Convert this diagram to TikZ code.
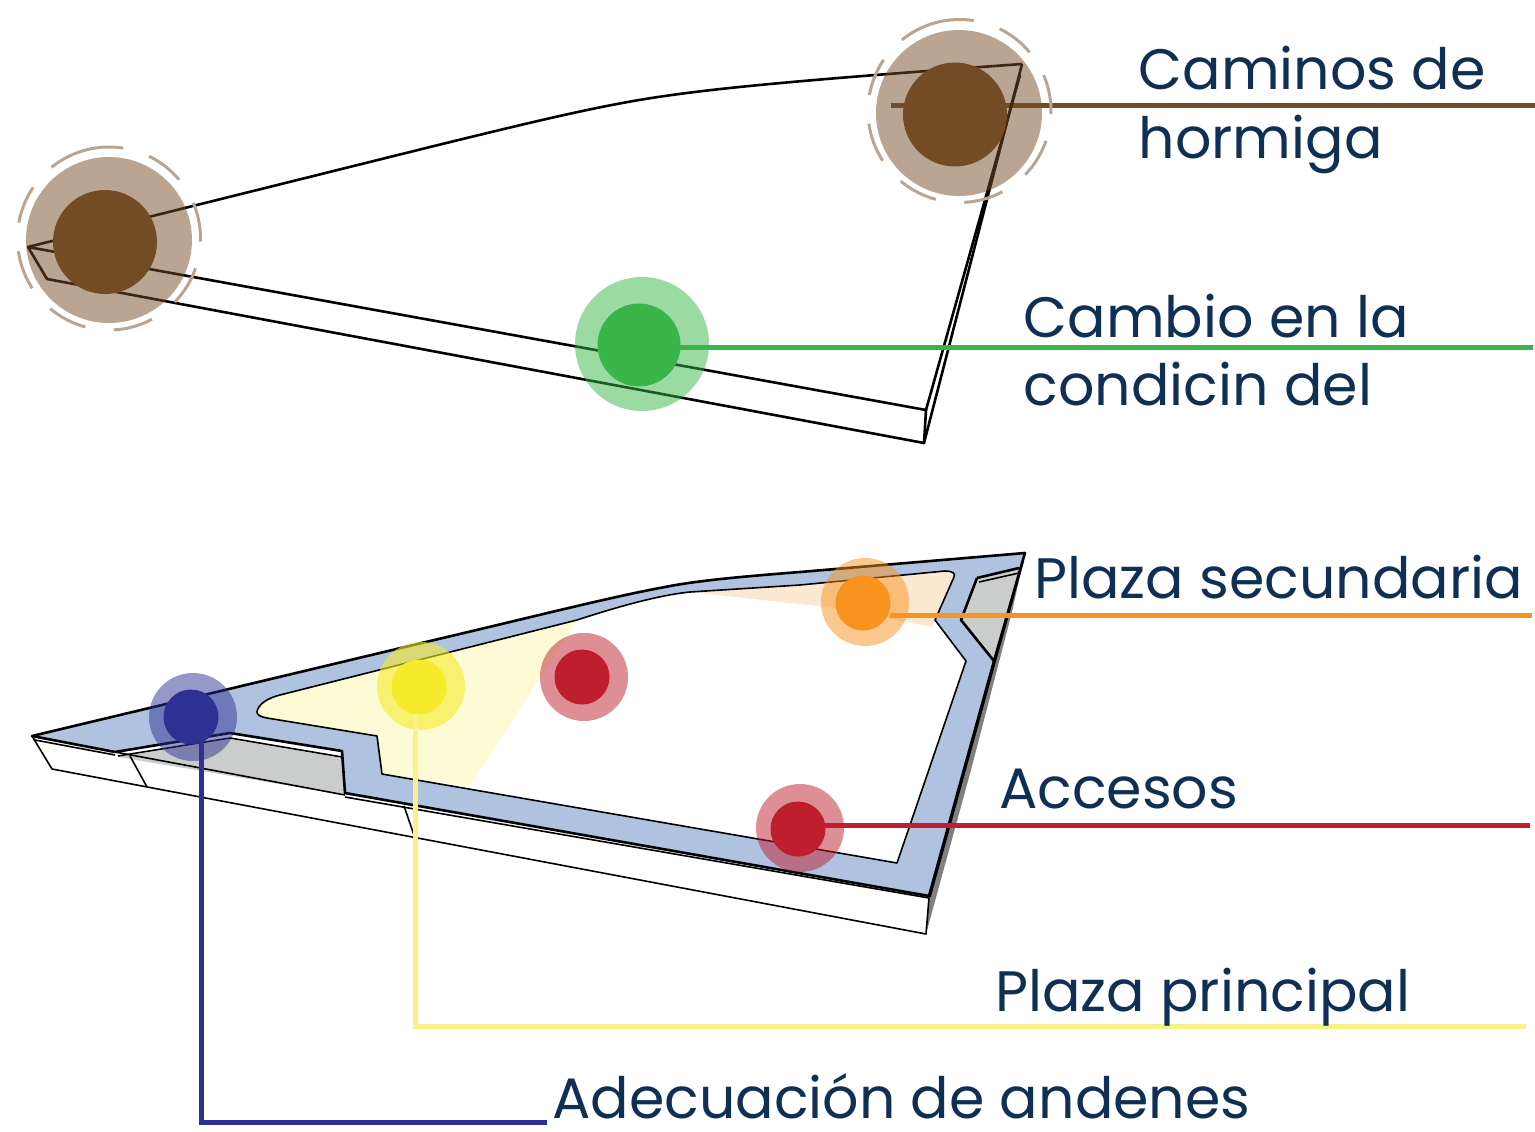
\documentclass[tikz,border=0pt]{standalone}
\usepackage{fontspec}
\setmainfont{Poppins}
\definecolor{cafe}{HTML}{734C26}
\definecolor{verde}{HTML}{39B54A}
\definecolor{rojo}{HTML}{BE1E2D}
\definecolor{naranja}{HTML}{F7931E}
\definecolor{amarillo}{HTML}{F5EB2B}
\definecolor{amarilloline}{HTML}{F9F28C}
\definecolor{azul}{HTML}{2E3192}
\definecolor{banda}{HTML}{AFC2E0}
\definecolor{gris}{HTML}{CBCDCC}
\definecolor{texto}{HTML}{0F3054}
\tikzset{
  halo/.style={circle,inner sep=0pt,minimum size=#1,draw=none},
  punto/.style={circle,inner sep=0pt,minimum size=#1,draw=none},
  etiqueta/.style={anchor=base west,inner sep=0pt,text=texto,font=\fontsize{57}{67}\selectfont},
  linea/.style={line width=5pt},
  anillo/.style={draw=cafe!50,line width=3pt},
  fino/.style={black,line width=1.6pt,line join=round},
  grueso/.style={black,line width=2.6pt,line join=round}
}
\newcommand{\hueco}{(257,712) .. controls (258,704) and (268,698) .. (280,695) -- (577,620) .. controls (620,606) and (660,595) .. (690,592) -- (800,585) -- (945,571) .. controls (952,571) and (956,573) .. (954,577) -- (935,620) -- (966,661) -- (897,863) -- (382,774) -- (377,736) -- (267,718) .. controls (261,717) and (257,715) .. (257,712) -- cycle}
\newcommand{\banda}{(32,736) -- (430,641) .. controls (520,620) and (610,597) .. (665,587) .. controls (700,580) and (750,576) .. (800,572) -- (1025,553) -- (1020,570) -- (994,661) -- (929,896) -- (345,793) -- (342,751) -- (230,733) -- (115,752) -- cycle}
\newcommand{\anillos}[3]{
  \foreach \a/\b in {129/81,64/40,23/-2,-19/-44,-62/-87,-105/-130,-147/-172,170/146}{
    \draw[anillo] (#1,#2) ++(\a:#3) arc[start angle=\a,end angle=\b,radius=#3];
  }
}
\begin{document}
\begin{tikzpicture}[x=1pt,y=-1pt]
  \useasboundingbox (0,0) rectangle (1535,1132);
  % arriba
  \coordinate (cafeA) at (891,105);
  \coordinate (cafeB) at (1535,105);
  \draw[linea,cafe] (cafeA) -- (cafeB);
  \draw[grueso] (28,247) -- (430,147) .. controls (520,125) and (600,105) .. (665,96) .. controls (720,88) and (800,80) .. (1022,64);
  \draw[grueso] (28,247) -- (926,410) -- (924,443) -- (47,279) -- cycle;
  \draw[grueso] (1022,64) -- (924,443);
  \draw[grueso] (1020,75) -- (926,410);
  \node[halo=166pt,fill=cafe,fill opacity=.5] (haloC1) at (959,113) {};
  \node[halo=166pt,fill=cafe,fill opacity=.5] (haloC2) at (109,240) {};
  \node[halo=134pt,fill=verde,fill opacity=.5] (haloV) at (642,344) {};
  \anillos{959.5}{111}{91.5pt}
  \anillos{109}{238.5}{91.5pt}
  \coordinate (verdeB) at (1533,347);
  \draw[linea,verde] (680,347) -- (verdeB);
  \node[punto=104pt,fill=cafe] (dotC1) at (955,114.5) {};
  \node[punto=104pt,fill=cafe] (dotC2) at (105,242) {};
  \node[punto=83pt,fill=verde] (dotV) at (639,345) {};
  % abajo
  \fill[banda] \banda;
  \fill[white] \hueco;
  \fill[amarillo!20] (257,712) .. controls (258,704) and (268,698) .. (280,695) -- (577,620) -- (470,786) -- (382,774) -- (377,736) -- (267,718) .. controls (261,717) and (257,715) .. (257,712) -- cycle;
  \fill[naranja!20] (690,592) -- (800,585) -- (945,571) .. controls (952,571) and (956,573) .. (954,577) -- (935,620) -- (932,627) -- (835,608) -- cycle;
  \fill[gris] (118,757) -- (230,739) -- (342,758) -- (345,795) -- cycle;
  \fill[gris] (977,578) -- (1020,568) -- (994,661) -- (961,620) -- cycle;
  \fill[black!50] (926,934) -- (929,898) -- (994,665) -- (1025,553) -- (1012,612) -- (971,770) -- cycle;
  \draw[fino] \hueco;
  \draw[grueso] \banda;
  \draw[grueso] (977,578) -- (1019,568);
  \draw[grueso] (977,578) -- (961,620) -- (994,661);
  \draw[fino] (979,582) -- (1019,573);
  \draw[fino] (930,897) -- (995,662) -- (1023,562);
  \draw[fino] (32,736) -- (52,769) -- (926,934) -- (929,898) -- (345,797);
  \draw[fino] (35,740) -- (115,755);
  \draw[fino] (115,752) -- (345,795);
  \draw[fino] (118,756) -- (230,738) -- (342,757);
  \draw[fino] (130,756) -- (147,787);
  \draw[fino] (404,806) -- (415,838);
  \node[halo=88pt,fill=azul,fill opacity=.5] (haloAz) at (193,717) {};
  \node[halo=88pt,fill=amarillo,fill opacity=.6] (haloAm) at (421,686) {};
  \node[halo=88pt,fill=rojo,fill opacity=.5] (haloR1) at (584,677) {};
  \node[halo=88pt,fill=naranja,fill opacity=.5] (haloN) at (865,602) {};
  \node[halo=88pt,fill=rojo,fill opacity=.5] (haloR2) at (800,828) {};
  \coordinate (naranjaB) at (1532,615);
  \coordinate (rojoB) at (1530,825);
  \coordinate (amarilloA) at (415,700);
  \coordinate (amarilloB) at (1526,1026);
  \coordinate (azulA) at (201,740);
  \coordinate (azulB) at (547,1122);
  \draw[linea,naranja] (890,615) -- (naranjaB);
  \draw[linea,rojo] (820,825) -- (rojoB);
  \draw[linea,amarilloline] (amarilloA) |- (amarilloB);
  \draw[linea,azul] (azulA) |- (azulB);
  \node[punto=55pt,fill=azul] (dotAz) at (191,717) {};
  \node[punto=55pt,fill=amarillo] (dotAm) at (419,687) {};
  \node[punto=55pt,fill=rojo] (dotR1) at (582,677) {};
  \node[punto=55pt,fill=naranja] (dotN) at (863,603) {};
  \node[punto=55pt,fill=rojo] (dotR2) at (798,829) {};
  % textos
  \node[etiqueta] (caminos) at (1138.5,90) {Caminos de};
  \node[etiqueta] (hormiga) at (1138.5,158) {hormiga};
  \node[etiqueta] (cambio) at (1023.5,337) {Cambio en la};
  \node[etiqueta] (condicin) at (1023.5,405) {condicin del};
  \node[etiqueta] (plazasec) at (1034,598) {Plaza secundaria};
  \node[etiqueta] (accesos) at (999,808) {Accesos};
  \node[etiqueta] (plazapri) at (995,1011) {Plaza principal};
  \node[etiqueta] (adecuacion) at (552,1118) {Adecuación de andenes};
\end{tikzpicture}
\end{document}
